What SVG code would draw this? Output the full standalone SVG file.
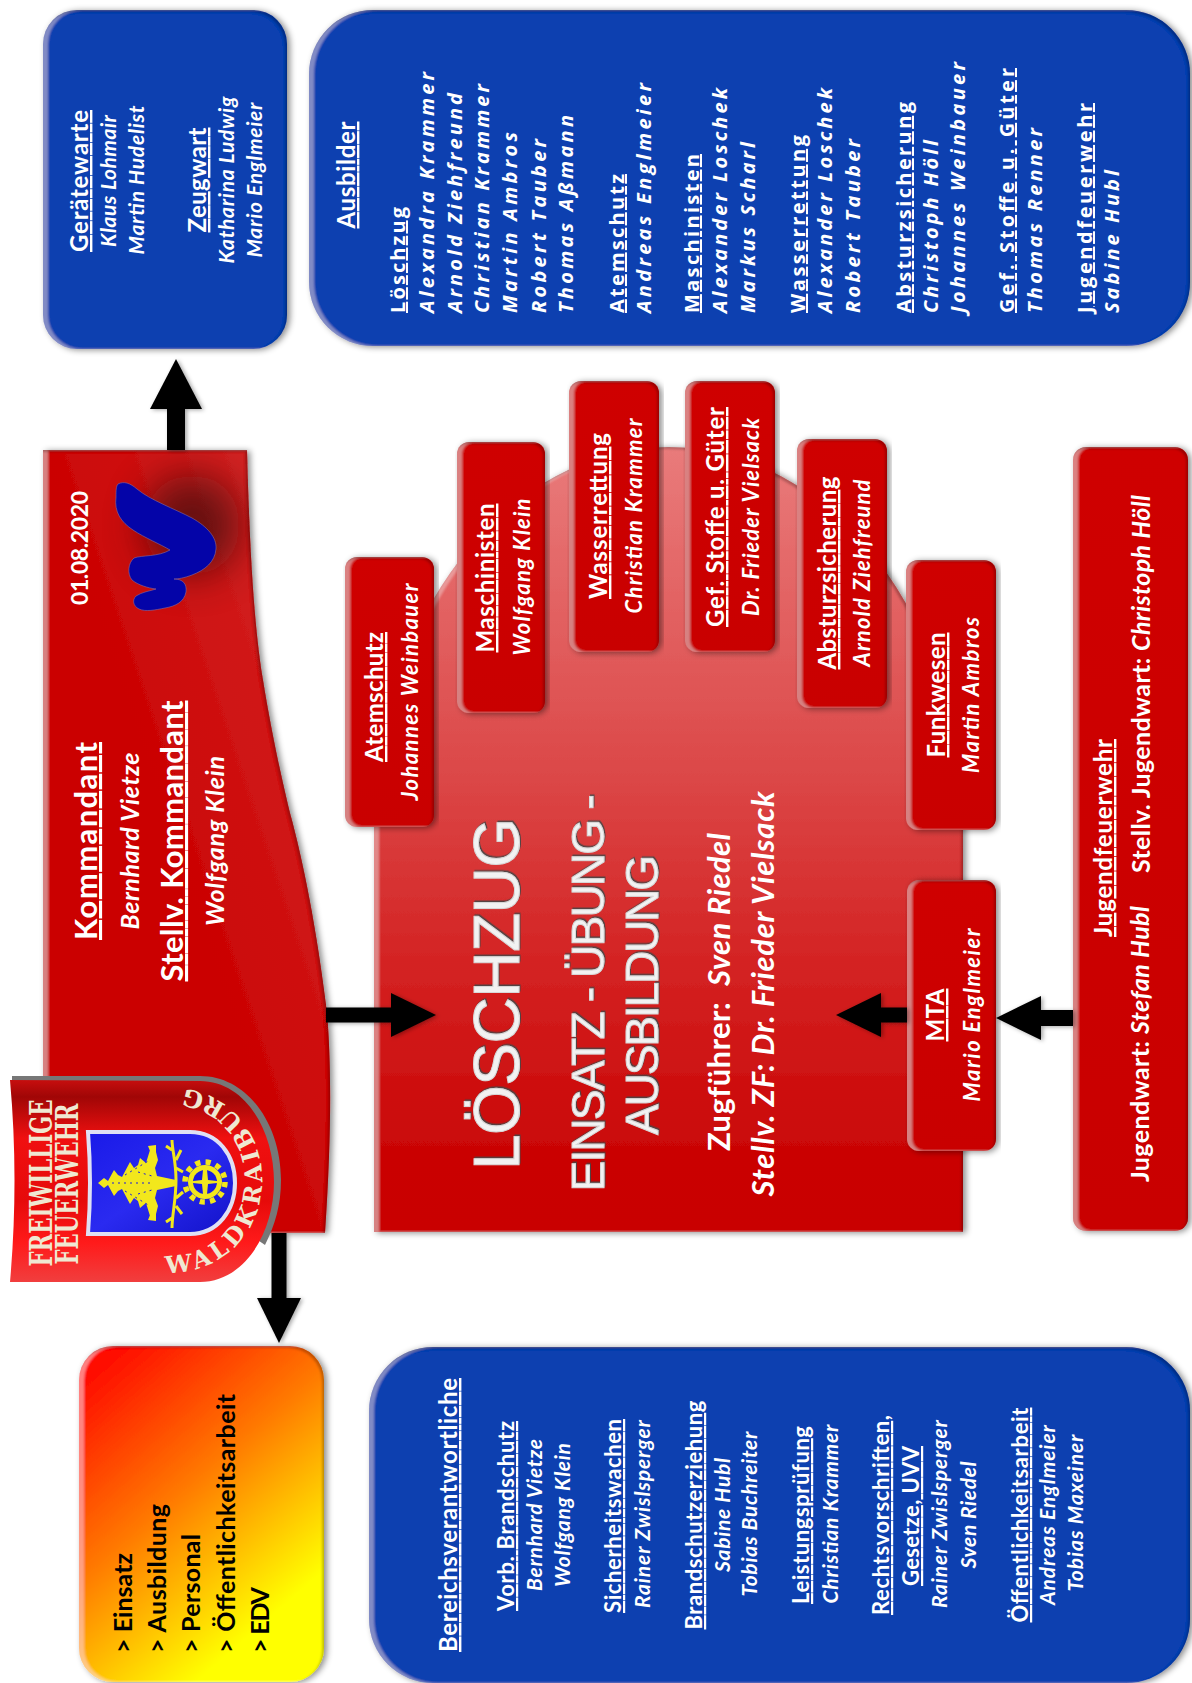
<svg xmlns="http://www.w3.org/2000/svg" xmlns:xlink="http://www.w3.org/1999/xlink" width="1192" height="1683" viewBox="0 0 1192 1683">
<style>
text{font-family:Lato,"Open Sans","Liberation Sans",sans-serif;fill:#fff;font-weight:700;text-anchor:middle}
.h{font-size:24px;text-decoration:underline}
.hb{font-size:31px;text-decoration:underline}
.n{font-size:22px;font-style:italic}
.k{font-size:21px;font-style:italic}
.s{text-anchor:start;font-family:"Open Sans","Liberation Sans",sans-serif;font-size:20px}
.si{font-style:italic}
.u{text-decoration:underline}
.o{fill:#000;text-anchor:start;font-size:25px}
.l{fill:#f2f2f2;stroke:#d8d8d8;stroke-width:1;font-family:"Liberation Sans",Arial,sans-serif;font-weight:400;filter:url(#ts)}
.r{fill:url(#red)}.b{fill:#0b3fb0}
.box{filter:url(#bevel)}
.cn{stroke:#000;fill:none}
.lg{fill:#efe8d2;font-family:"DejaVu Serif","Liberation Serif",serif;font-weight:700}
.y{fill:#f2e71c}
</style>
<defs>
<linearGradient id="red" x1="0" y1="0" x2="0" y2="1"><stop offset="0" stop-color="#cf0606"/><stop offset="1" stop-color="#c90202"/></linearGradient>
<linearGradient id="cmd" x1="1" y1="0" x2="0.45" y2="0.5"><stop offset="0" stop-color="#d63030"/><stop offset="1" stop-color="#cb0303"/></linearGradient>
<linearGradient id="lz" x1="0" y1="0" x2="0" y2="1"><stop offset="0" stop-color="#e97b7b"/><stop offset="0.4" stop-color="#dc4a4a"/><stop offset="0.65" stop-color="#d42424"/><stop offset="0.9" stop-color="#ca0505"/><stop offset="1" stop-color="#c90202"/></linearGradient>
<linearGradient id="ora" gradientUnits="userSpaceOnUse" x1="90" y1="1370" x2="290" y2="1600"><stop offset="0" stop-color="#ff0a00"/><stop offset="0.5" stop-color="#ff7a00"/><stop offset="1" stop-color="#ffff00"/></linearGradient>
<linearGradient id="lgr" gradientUnits="userSpaceOnUse" x1="0" y1="1076" x2="0" y2="1284"><stop offset="0" stop-color="#d01010"/><stop offset="0.1" stop-color="#a00606"/><stop offset="0.3" stop-color="#f01010"/><stop offset="0.6" stop-color="#e60a0a"/><stop offset="0.8" stop-color="#ff1a1a"/><stop offset="1" stop-color="#f04040"/></linearGradient>
<linearGradient id="lgb" x1="0" y1="0" x2="1" y2="1"><stop offset="0" stop-color="#1a1ae8"/><stop offset="0.5" stop-color="#2a2af0"/><stop offset="1" stop-color="#1212c8"/></linearGradient>
<filter id="bevel" x="-5%" y="-5%" width="110%" height="110%">
<feGaussianBlur in="SourceAlpha" stdDeviation="3" result="sb"/><feOffset in="sb" dx="3" dy="1" result="so"/><feFlood flood-color="#000" flood-opacity=".45"/><feComposite in2="so" operator="in" result="shadow"/>
<feGaussianBlur in="SourceAlpha" stdDeviation="1.2" result="b"/>
<feOffset in="b" dx="5" dy="0" result="o1"/><feComposite in="SourceAlpha" in2="o1" operator="out" result="e1"/><feFlood flood-color="#fff" flood-opacity=".22"/><feComposite in2="e1" operator="in" result="hi"/>
<feOffset in="b" dx="-2" dy="2" result="o2"/><feComposite in="SourceAlpha" in2="o2" operator="out" result="e2"/><feFlood flood-color="#000" flood-opacity=".45"/><feComposite in2="e2" operator="in" result="dk"/>
<feMerge><feMergeNode in="shadow"/><feMergeNode in="SourceGraphic"/><feMergeNode in="hi"/><feMergeNode in="dk"/></feMerge>
</filter>
<filter id="ts" x="-5%" y="-10%" width="110%" height="120%"><feDropShadow dx="1.5" dy="1" stdDeviation="0.7" flood-color="#444" flood-opacity=".9"/></filter>
<filter id="sd" x="-20%" y="-20%" width="140%" height="140%"><feDropShadow dx="2" dy="1" stdDeviation="2" flood-color="#000" flood-opacity=".35"/></filter>
<filter id="gl" x="-80%" y="-80%" width="260%" height="260%"><feGaussianBlur stdDeviation="20"/></filter>
<marker id="m1" markerUnits="userSpaceOnUse" markerWidth="50" markerHeight="52" refX="0" refY="26" orient="auto" overflow="visible"><path d="M0 0L50 26L0 52Z"/></marker>
<marker id="m2" markerUnits="userSpaceOnUse" markerWidth="45" markerHeight="44" refX="0" refY="22" orient="auto" overflow="visible"><path d="M0 0L45 22L0 44Z"/></marker>
<path id="arc" d="M166 1273C228 1273 262 1228 262 1180C262 1132 228 1088 168 1087"/>
<clipPath id="cc"><path d="M43 450H247C249 530 253 620 263 680V700H43Z"/></clipPath>
</defs>
<rect width="1192" height="1683" fill="#fff"/>

<g id="geraetewarte">
<rect class="b box" x="43" y="10" width="244" height="339" rx="34"/>
<text class="h" transform="translate(88,181) rotate(-90)" textLength="142">Gerätewarte</text>
<text class="k" transform="translate(116,181) rotate(-90)" textLength="132">Klaus Lohmair</text>
<text class="k" transform="translate(144,180) rotate(-90)" textLength="149">Martin Hudelist</text>
<text class="h" transform="translate(206,180) rotate(-90)" textLength="105">Zeugwart</text>
<text class="k" transform="translate(234,180) rotate(-90)" textLength="167">Katharina Ludwig</text>
<text class="k" transform="translate(262,180) rotate(-90)" textLength="155">Mario Englmeier</text>
</g>

<g id="ausbilder">
<rect class="b box" x="309" y="10" width="881" height="336" rx="64"/>
<text class="h" transform="translate(355,175) rotate(-90)" textLength="107">Ausbilder</text>
<text class="s u" transform="translate(405,313) rotate(-90)" textLength="106">Löschzug</text>
<text class="s si" transform="translate(434,313) rotate(-90)" textLength="241">Alexandra Krammer</text>
<text class="s si" transform="translate(462,313) rotate(-90)" textLength="220">Arnold Ziehfreund</text>
<text class="s si" transform="translate(489,313) rotate(-90)" textLength="229">Christian Krammer</text>
<text class="s si" transform="translate(517,313) rotate(-90)" textLength="181">Martin Ambros</text>
<text class="s si" transform="translate(546,313) rotate(-90)" textLength="174">Robert Tauber</text>
<text class="s si" transform="translate(573,313) rotate(-90)" textLength="198">Thomas Aßmann</text>
<text class="s u" transform="translate(624,313) rotate(-90)" textLength="139">Atemschutz</text>
<text class="s si" transform="translate(651,313) rotate(-90)" textLength="230">Andreas Englmeier</text>
<text class="s u" transform="translate(699,313) rotate(-90)" textLength="159">Maschinisten</text>
<text class="s si" transform="translate(727,313) rotate(-90)" textLength="225">Alexander Loschek</text>
<text class="s si" transform="translate(755,313) rotate(-90)" textLength="171">Markus Scharl</text>
<text class="s u" transform="translate(805,313) rotate(-90)" textLength="178">Wasserrettung</text>
<text class="s si" transform="translate(832,313) rotate(-90)" textLength="225">Alexander Loschek</text>
<text class="s si" transform="translate(860,313) rotate(-90)" textLength="174">Robert Tauber</text>
<text class="s u" transform="translate(911,313) rotate(-90)" textLength="211">Absturzsicherung</text>
<text class="s si" transform="translate(938,313) rotate(-90)" textLength="173">Christoph Höll</text>
<text class="s si" transform="translate(965,313) rotate(-90)" textLength="251">Johannes Weinbauer</text>
<text class="s u" transform="translate(1014,313) rotate(-90)" textLength="245">Gef. Stoffe u. Güter</text>
<text class="s si" transform="translate(1042,313) rotate(-90)" textLength="185">Thomas Renner</text>
<text class="s u" transform="translate(1092,313) rotate(-90)" textLength="210">Jugendfeuerwehr</text>
<text class="s si" transform="translate(1119,313) rotate(-90)" textLength="143">Sabine Hubl</text>
</g>

<g id="kommandant">
<path class="box" fill="url(#cmd)" d="M43 450H247C249 530 253 620 263 680C272 735 282 780 290 813C303 860 317 930 327 1013C331 1060 332 1130 325 1233H43Z"/>
<g clip-path="url(#cc)"><ellipse cx="192" cy="525" rx="48" ry="50" fill="#3a1010" opacity=".7" filter="url(#gl)"/></g>
<path fill="#0404a8" stroke="#8a6a9a" stroke-width=".6" d="M118 484C124 481 130 483 137 489C150 500 175 509 192 518C208 527 217 538 216 549C215 562 205 570 192 575C184 578 178 579 174 579C183 579 187 584 186 592C184 602 176 606 165 608C155 610 146 612 139 609C133 606 132 600 136 596C142 592 150 591 156 589C148 588 138 585 132 580C127 574 128 563 134 558C142 555 158 557 170 550C160 544 145 538 133 530C121 522 114 512 116 497C116 491 116 486 118 484Z"/>
<text transform="translate(88,548) rotate(-90)" font-size="23" textLength="114">01.08.2020</text>
<text class="hb" transform="translate(97,841) rotate(-90)" textLength="198">Kommandant</text>
<text class="n" style="font-size:25px" transform="translate(139,841) rotate(-90)" textLength="177">Bernhard Vietze</text>
<text class="hb" transform="translate(183,841) rotate(-90)" textLength="281">Stellv. Kommandant</text>
<text class="n" style="font-size:25px" transform="translate(224,841) rotate(-90)" textLength="170">Wolfgang Klein</text>
</g>

<g id="loeschzug">
<path class="box" fill="url(#lz)" d="M374 1232V830A294.5 383 0 0 1 963 830V1232Z"/>
<text class="l" font-size="64" transform="translate(519,994) rotate(-90)" textLength="352">LÖSCHZUG</text>
<text class="l" font-size="46" transform="translate(604,993) rotate(-90)" textLength="397">EINSATZ - ÜBUNG -</text>
<text class="l" font-size="46" transform="translate(658,995) rotate(-90)" textLength="280">AUSBILDUNG</text>
<text font-size="31" transform="translate(730,992) rotate(-90)" textLength="318" xml:space="preserve">Zugführer:  <tspan font-style="italic">Sven Riedel</tspan></text>
<text font-size="31" font-style="italic" transform="translate(774,994) rotate(-90)" textLength="405">Stellv. ZF: Dr. Frieder Vielsack</text>
</g>

<g id="atemschutz"><rect class="r box" x="345" y="557" width="89" height="270" rx="12"/>
<text class="h" transform="translate(383,697) rotate(-90)" textLength="130">Atemschutz</text>
<text class="n" transform="translate(418,692) rotate(-90)" textLength="217">Johannes Weinbauer</text></g>
<g id="maschinisten"><rect class="r box" x="457" y="442" width="88" height="271" rx="12"/>
<text class="h" transform="translate(494,578) rotate(-90)" textLength="149">Maschinisten</text>
<text class="n" transform="translate(530,577) rotate(-90)" textLength="157">Wolfgang Klein</text></g>
<g id="wasserrettung"><rect class="r box" x="569" y="381" width="90" height="271" rx="12"/>
<text class="h" transform="translate(607,516) rotate(-90)" textLength="166">Wasserrettung</text>
<text class="n" transform="translate(642,516) rotate(-90)" textLength="195">Christian Krammer</text></g>
<g id="gefstoffe"><rect class="r box" x="685" y="381" width="90" height="271" rx="12"/>
<text class="h" transform="translate(724,517) rotate(-90)" textLength="220">Gef. Stoffe u. Güter</text>
<text class="n" transform="translate(759,517) rotate(-90)" textLength="198">Dr. Frieder Vielsack</text></g>
<g id="absturz"><rect class="r box" x="797" y="439" width="90" height="269" rx="12"/>
<text class="h" transform="translate(836,573) rotate(-90)" textLength="193">Absturzsicherung</text>
<text class="n" transform="translate(870,573) rotate(-90)" textLength="187">Arnold Ziehfreund</text></g>
<g id="funkwesen"><rect class="r box" x="906" y="560" width="90" height="270" rx="12"/>
<text class="h" transform="translate(945,695) rotate(-90)" textLength="125">Funkwesen</text>
<text class="n" transform="translate(979,695) rotate(-90)" textLength="156">Martin Ambros</text></g>
<g id="mta"><rect class="r box" x="907" y="880" width="89" height="271" rx="12"/>
<text class="h" transform="translate(944,1015) rotate(-90)" textLength="53">MTA</text>
<text class="n" transform="translate(980,1015) rotate(-90)" textLength="173">Mario Englmeier</text></g>

<g id="jugendfeuerwehr"><rect class="r box" x="1073" y="447" width="115" height="784" rx="13"/>
<text class="h" transform="translate(1112,838) rotate(-90)" textLength="198">Jugendfeuerwehr</text>
<text font-size="25" transform="translate(1149,1044) rotate(-90)" textLength="276">Jugendwart: <tspan font-style="italic">Stefan Hubl</tspan></text>
<text font-size="25" transform="translate(1150,684) rotate(-90)" textLength="378">Stellv. Jugendwart: <tspan font-style="italic">Christoph Höll</tspan></text></g>

<g id="aufgaben"><rect class="box" fill="url(#ora)" x="79" y="1346" width="245" height="336" rx="34"/>
<text class="o" transform="translate(132,1653) rotate(-90)" textLength="100">&gt; Einsatz</text>
<text class="o" transform="translate(166,1653) rotate(-90)" textLength="149">&gt; Ausbildung</text>
<text class="o" transform="translate(200,1653) rotate(-90)" textLength="119">&gt; Personal</text>
<text class="o" transform="translate(235,1653) rotate(-90)" textLength="259">&gt; Öffentlichkeitsarbeit</text>
<text class="o" transform="translate(269,1653) rotate(-90)" textLength="66">&gt; EDV</text></g>

<g id="bereichsverantwortliche"><rect class="b box" x="369" y="1347" width="821" height="336" rx="64"/>
<text class="h" transform="translate(457,1515) rotate(-90)" textLength="274">Bereichsverantwortliche</text>
<text class="h" style="font-size:22px" transform="translate(514,1516) rotate(-90)" textLength="190">Vorb. Brandschutz</text>
<text class="k" transform="translate(542,1515) rotate(-90)" textLength="152">Bernhard Vietze</text>
<text class="k" transform="translate(570,1515) rotate(-90)" textLength="144">Wolfgang Klein</text>
<text class="h" style="font-size:22px" transform="translate(621,1516) rotate(-90)" textLength="194">Sicherheitswachen</text>
<text class="k" transform="translate(650,1514) rotate(-90)" textLength="188">Rainer Zwislsperger</text>
<text class="h" style="font-size:22px" transform="translate(702,1515) rotate(-90)" textLength="229">Brandschutzerziehung</text>
<text class="k" transform="translate(730,1515) rotate(-90)" textLength="114">Sabine Hubl</text>
<text class="k" transform="translate(757,1514) rotate(-90)" textLength="165">Tobias Buchreiter</text>
<text class="h" style="font-size:22px" transform="translate(809,1515) rotate(-90)" textLength="178">Leistungsprüfung</text>
<text class="k" transform="translate(838,1514) rotate(-90)" textLength="179">Christian Krammer</text>
<text class="h" style="font-size:22px" transform="translate(889,1515) rotate(-90)" textLength="200">Rechtsvorschriften,</text>
<text class="h" style="font-size:22px" transform="translate(919,1516) rotate(-90)" textLength="140">Gesetze, UVV</text>
<text class="k" transform="translate(947,1514) rotate(-90)" textLength="188">Rainer Zwislsperger</text>
<text class="k" transform="translate(976,1515) rotate(-90)" textLength="107">Sven Riedel</text>
<text class="h" style="font-size:22px" transform="translate(1028,1515) rotate(-90)" textLength="215">Öffentlichkeitsarbeit</text>
<text class="k" transform="translate(1055,1515) rotate(-90)" textLength="180">Andreas Englmeier</text>
<text class="k" transform="translate(1083,1513) rotate(-90)" textLength="157">Tobias Maxeiner</text></g>

<g id="connectors" filter="url(#sd)">
<line class="cn" x1="176" y1="450" x2="176" y2="409" stroke-width="18" marker-end="url(#m1)"/>
<line class="cn" x1="279" y1="1233" x2="279" y2="1298" stroke-width="15" marker-end="url(#m2)"/>
<line class="cn" x1="326" y1="1015" x2="391" y2="1015" stroke-width="15" marker-end="url(#m2)"/>
<line class="cn" x1="907" y1="1015" x2="881" y2="1015" stroke-width="15" marker-end="url(#m2)"/>
<line class="cn" x1="1073" y1="1018" x2="1041" y2="1018" stroke-width="16" marker-end="url(#m2)"/>
</g>

<g id="wappen">
<path fill="#777" d="M12 1076L200 1076C248 1076 281 1125 281 1180C281 1205 275 1225 265 1245L200 1200L12 1100Z"/>
<path fill="url(#lgr)" d="M10 1080Q19 1180 10 1282L200 1282C245 1282 274 1232 274 1182C274 1130 245 1081 200 1081Z"/>
<path fill="url(#lgb)" stroke="#dfe0f4" stroke-width="4" d="M88 1132Q92 1183 88 1234L190 1234C218 1234 235 1210 235 1183C235 1155 218 1132 190 1132Z"/>
<path class="y" d="M98 1183L104 1178L108 1181L114 1170L118 1175L122 1177L130 1162L134 1168L138 1165L140 1158L146 1163L150 1150L152 1156L148 1146L156 1145L156 1152L158 1160L155 1168L157 1176L176 1180V1186L157 1190L155 1198L158 1206L156 1214L156 1221L148 1220L152 1210L150 1216L146 1203L140 1208L138 1201L134 1198L130 1204L122 1189L118 1191L114 1196L108 1185L104 1188Z"/>
<path fill="none" stroke="#1a1ae0" stroke-width="1" stroke-dasharray="2 4" d="M112 1183H150M125 1175L150 1160M125 1191L150 1206M138 1172L152 1176M138 1194L152 1190"/>
<path fill="none" stroke="#f2e71c" stroke-width="3" d="M172 1140C172 1150 176 1160 176 1180C176 1200 172 1215 172 1228M176 1160L181 1150M172 1150L166 1146M176 1168L183 1172M176 1198L183 1192M176 1206L182 1214M172 1218L166 1222"/>
<circle class="y" cx="205" cy="1182" r="17"/>
<circle fill="none" stroke="#f2e71c" stroke-width="5.5" stroke-dasharray="5.2 5.27" cx="205" cy="1182" r="20"/>
<circle fill="#1a1ae0" cx="205" cy="1182" r="12"/>
<path class="y" d="M203 1170H207L208 1180L217 1181V1183L208 1184L207 1194H203L202 1184L193 1183V1181L202 1180Z"/>
<text class="lg" font-size="31" transform="translate(52,1183) rotate(-90)" textLength="167" lengthAdjust="spacingAndGlyphs">FREIWILLIGE</text>
<text class="lg" font-size="31" transform="translate(78,1184) rotate(-90)" textLength="161" lengthAdjust="spacingAndGlyphs">FEUERWEHR</text>
<text class="lg" font-size="24" style="text-anchor:start" textLength="280" lengthAdjust="spacing"><textPath href="#arc" xlink:href="#arc">WALDKRAIBURG</textPath></text>
</g>
</svg>
